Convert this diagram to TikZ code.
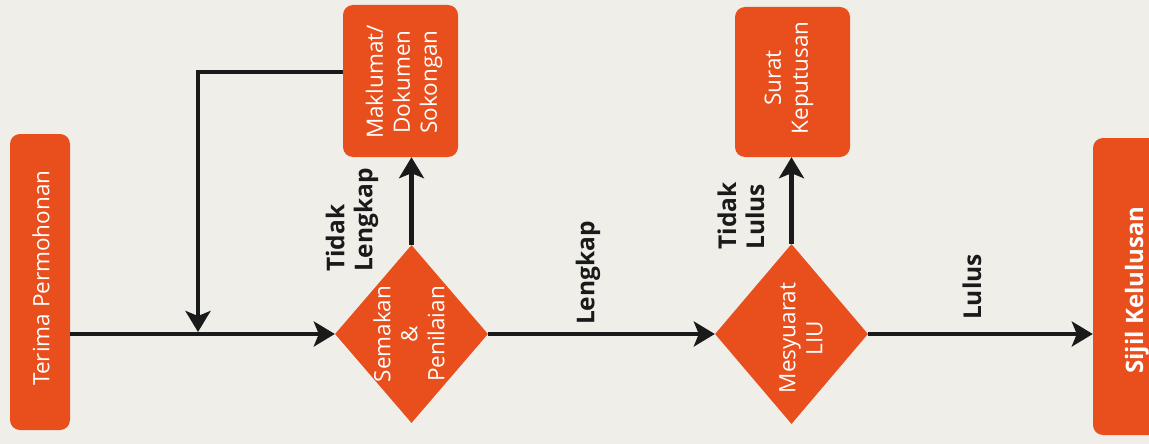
\documentclass[tikz,border=0pt]{standalone}
\usepackage{fontspec}
\setmainfont{Open Sans}
\usetikzlibrary{shapes.geometric,arrows.meta}
\definecolor{org}{HTML}{E94E1D}
\definecolor{bg}{HTML}{EFEEE9}
\definecolor{ink}{HTML}{1A1A1A}
\begin{document}
\begin{tikzpicture}[x=1pt,y=-1pt,
  box/.style={fill=org, rounded corners=10pt, draw=none, inner sep=0pt},
  dia/.style={diamond, fill=org, draw=none, inner sep=0pt},
  txt/.style={rotate=90, text=white, font=\fontsize{22.5}{27}\selectfont, align=center, inner sep=0pt},
  lbl/.style={rotate=90, text=ink, font=\bfseries\fontsize{24.5}{28}\selectfont, align=left, inner sep=0pt},
  conn/.style={line width=4.5pt, draw=ink, -{Stealth[length=21pt,width=25pt,inset=5pt]}}]
\fill[bg] (0,0) rectangle (1149,444);
\useasboundingbox (0,0) rectangle (1149,444);
\clip (0,0) rectangle (1149,444);
% boxes
\node[box, minimum width=60pt, minimum height=296pt] (terima) at (40,282) {};
\node[txt] (terimat) at (41,278) {Terima Permohonan};
\node[box, minimum width=115pt, minimum height=152pt] (mak) at (400.5,81) {};
\node[txt] (makt) at (404,82) {Maklumat/\\Dokumen\\Sokongan};
\node[dia, minimum width=153pt, minimum height=178pt] (sem) at (411.5,334) {};
\node[txt] (semt) at (409,334) {Semakan\\\&\\Penilaian};
\node[dia, minimum width=153pt, minimum height=180pt] (mes) at (791.5,334) {};
\node[txt] (mest) at (801,338) {Mesyuarat\\LIU};
\node[box, minimum width=115pt, minimum height=150pt] (sur) at (792.5,82) {};
\node[txt] (surt) at (789,78) {Surat\\Keputusan};
\node[box, minimum width=88pt, minimum height=297pt] (siji) at (1137,286.5) {};
\node[txt, font=\bfseries\fontsize{24}{28}\selectfont] (sijit) at (1137,290) {Sijil Kelulusan};
% labels
\node[lbl] (tl) at (352,220) {Tidak\\Lengkap};
\node[lbl] (lk) at (588,273) {Lengkap};
\node[lbl] (tlu) at (741,216) {Tidak\\Lulus};
\node[lbl] (lu) at (972,287) {Lulus};
% connectors
\coordinate (j) at (198,332);
\draw[conn] (terima.east |- sem.west) -- (sem.west);
\draw[conn] ([yshift=9pt]mak.west) -| (j);
\draw[conn] (sem.north) -- (sem.north |- mak.south);
\draw[conn] (sem.east) -- (mes.west);
\draw[conn] (mes.north) -- (mes.north |- sur.south);
\draw[conn] (mes.east) -- (mes.east -| siji.west);
\end{tikzpicture}
\end{document}
